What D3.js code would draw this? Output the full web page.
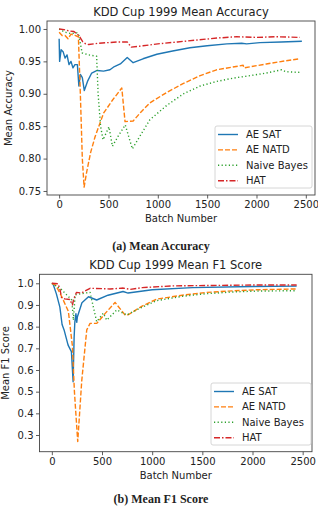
<!DOCTYPE html>
<html>
<head>
<meta charset="utf-8">
<script src="https://cdn.jsdelivr.net/npm/d3@7"></script>
<style>
  body { margin: 0; background: #fff; }
  svg text { font-family: "DejaVu Sans", sans-serif; fill: #222; }
  .caption { font-family: "Liberation Serif", serif; font-weight: bold; }
</style>
</head>
<body>
<div id="chart"></div>
<script>
// series as [batch, value] pairs
var seriesNames = ["AE SAT", "AE NATD", "Naive Bayes", "HAT"];

var accSat = [[0,0.985],[5,0.95],[20,0.968],[40,0.965],[60,0.955],[80,0.96],[100,0.945],[120,0.95],[140,0.94],[160,0.945],[185,0.945],[200,0.912],[215,0.93],[235,0.925],[255,0.905],[290,0.92],[330,0.932],[385,0.936],[450,0.935],[515,0.937],[560,0.942],[620,0.946],[690,0.956],[750,0.948],[850,0.954],[990,0.961],[1150,0.966],[1325,0.971],[1500,0.974],[1700,0.977],[1850,0.978],[1900,0.977],[2035,0.979],[2250,0.98],[2460,0.981]];
var accNatd = [[0,0.995],[30,0.99],[60,0.99],[90,0.985],[120,0.992],[160,0.99],[195,0.988],[215,0.9],[235,0.8],[253,0.756],[280,0.78],[320,0.81],[365,0.834],[450,0.87],[540,0.89],[635,0.909],[668,0.857],[750,0.858],[830,0.872],[920,0.886],[1090,0.902],[1260,0.916],[1430,0.928],[1595,0.937],[1865,0.944],[1875,0.94],[2100,0.946],[2300,0.951],[2440,0.954]];
var accNb = [[0,1.0],[60,0.995],[120,0.993],[180,0.994],[200,0.99],[233,0.963],[300,0.96],[380,0.958],[395,0.9],[420,0.85],[445,0.829],[505,0.849],[540,0.819],[600,0.835],[670,0.852],[742,0.815],[820,0.835],[920,0.86],[1090,0.882],[1260,0.9],[1430,0.912],[1595,0.919],[1760,0.924],[1935,0.928],[2100,0.932],[2255,0.937],[2300,0.934],[2440,0.933]];
var accHat = [[0,1.0],[50,0.999],[100,0.997],[150,0.996],[200,0.99],[240,0.98],[270,0.977],[300,0.976],[400,0.978],[500,0.979],[600,0.98],[690,0.98],[730,0.972],[850,0.974],[1000,0.977],[1200,0.98],[1400,0.983],[1600,0.986],[1800,0.988],[2000,0.987],[2200,0.988],[2440,0.987]];

var f1Sat = [[10,1.0],[46,0.95],[80,0.89],[102,0.81],[122,0.785],[162,0.715],[195,0.685],[212,0.546],[222,0.75],[229,0.82],[240,0.86],[248,0.82],[255,0.846],[300,0.91],[365,0.938],[447,0.923],[560,0.945],[710,0.962],[760,0.955],[1000,0.97],[1400,0.98],[2000,0.985],[2440,0.987]];
var f1Natd = [[0,1.0],[40,0.99],[99,0.938],[165,0.87],[205,0.71],[225,0.5],[258,0.27],[298,0.55],[348,0.785],[381,0.815],[448,0.815],[530,0.86],[630,0.912],[729,0.854],[762,0.855],[900,0.895],[1045,0.927],[1300,0.945],[1542,0.958],[1800,0.965],[2040,0.97],[2438,0.974]];
var f1Nb = [[0,1.0],[99,0.97],[149,0.946],[199,0.923],[215,0.83],[232,0.946],[315,0.954],[381,0.958],[447,0.823],[513,0.862],[547,0.83],[647,0.877],[746,0.854],[900,0.89],[1045,0.92],[1300,0.94],[1542,0.952],[1800,0.96],[2040,0.964],[2440,0.966]];
var f1Hat = [[0,1.0],[60,0.998],[80,0.975],[96,0.935],[129,0.928],[179,0.925],[205,0.9],[220,0.93],[245,0.958],[295,0.955],[381,0.977],[580,0.974],[712,0.978],[779,0.972],[900,0.98],[1200,0.988],[1600,0.99],[2000,0.992],[2440,0.992]];

var xTicks = [0, 500, 1000, 1500, 2000, 2500];
var accTicks = [0.75, 0.80, 0.85, 0.90, 0.95, 1.00];
var f1Ticks = [0.3, 0.4, 0.5, 0.6, 0.7, 0.8, 0.9, 1.0];

var colors = ["#1f77b4", "#ff7f0e", "#2ca02c", "#d62728"];
var dashes = [null, "5,2", "1.2,2.4", "6,2,1.5,2"];

var W = 318, H = 507;
var svg = d3.select("#chart").append("svg").attr("width", W).attr("height", H);

function drawPanel(opt) {
  var x = d3.scaleLinear().domain([-123, 2593]).range([opt.left, opt.right]);
  var y = d3.scaleLinear().domain(opt.yDomain).range([opt.bottom, opt.top]);
  var g = svg.append("g");

  var clipId = "clip" + opt.id;
  g.append("clipPath").attr("id", clipId).append("rect")
    .attr("x", opt.left).attr("y", opt.top)
    .attr("width", opt.right - opt.left).attr("height", opt.bottom - opt.top);

  var line = d3.line().x(function (d) { return x(d[0]); }).y(function (d) { return y(d[1]); });

  var lines = g.append("g").attr("clip-path", "url(#" + clipId + ")");
  opt.series.forEach(function (s, i) {
    lines.append("path").datum(s).attr("d", line)
      .attr("fill", "none").attr("stroke", colors[i]).attr("stroke-width", 1.4)
      .attr("stroke-dasharray", dashes[i]).attr("stroke-linejoin", "round");
  });

  var xAxis = g.append("g").attr("transform", "translate(0," + opt.bottom + ")")
    .call(d3.axisBottom(x).tickValues(xTicks).tickSize(3.5).tickPadding(2.5).tickFormat(d3.format("d")));
  var yAxis = g.append("g").attr("transform", "translate(" + opt.left + ",0)")
    .call(d3.axisLeft(y).tickValues(opt.yTicks).tickSize(3.5).tickPadding(2.5).tickFormat(d3.format(opt.fmt)));
  [xAxis, yAxis].forEach(function (a) {
    a.select(".domain").remove();
    a.selectAll("line").attr("stroke", "#333").attr("stroke-width", 0.8);
    a.selectAll("text").attr("font-size", 10).attr("fill", "#333");
  });

  g.append("rect").attr("x", opt.left).attr("y", opt.top)
    .attr("width", opt.right - opt.left).attr("height", opt.bottom - opt.top)
    .attr("fill", "none").attr("stroke", "#444").attr("stroke-width", 0.9);

  g.append("text").attr("x", (opt.left + opt.right) / 2).attr("y", opt.top - 5)
    .attr("text-anchor", "middle").attr("font-size", 11.5).text(opt.title);
  g.append("text").attr("x", (opt.left + opt.right) / 2).attr("y", opt.bottom + 27)
    .attr("text-anchor", "middle").attr("font-size", 10).attr("fill", "#333").text("Batch Number");
  g.append("text").attr("transform", "translate(" + opt.yLabelX + "," + (opt.top + opt.bottom) / 2 + ") rotate(-90)")
    .attr("text-anchor", "middle").attr("font-size", 10).attr("fill", "#333").text(opt.yLabel);

  // legend
  var lg = g.append("g").attr("transform", "translate(" + opt.legend[0] + "," + opt.legend[1] + ")");
  lg.append("rect").attr("width", opt.legend[2]).attr("height", 62).attr("rx", 2)
    .attr("fill", "#fff").attr("fill-opacity", 0.85).attr("stroke", "#ccc").attr("stroke-width", 0.8);
  seriesNames.forEach(function (name, i) {
    var yy = 8.5 + i * 15.4;
    lg.append("line").attr("x1", 3).attr("x2", 23).attr("y1", yy).attr("y2", yy)
      .attr("stroke", colors[i]).attr("stroke-width", 1.4).attr("stroke-dasharray", dashes[i]);
    lg.append("text").attr("x", 31).attr("y", yy + 3.5).attr("font-size", 10).attr("fill", "#333").text(name);
  });

  svg.append("text").attr("class", "caption").attr("x", 161).attr("y", opt.captionY)
    .attr("text-anchor", "middle").attr("font-size", 12).text(opt.caption);
}

drawPanel({
  id: "a", left: 47, right: 315, top: 21, bottom: 195,
  yDomain: [0.7438, 1.0123], yTicks: accTicks, fmt: ".2f",
  series: [accSat, accNatd, accNb, accHat],
  title: "KDD Cup 1999 Mean Accuracy", yLabel: "Mean Accuracy", yLabelX: 12,
  legend: [215, 126, 97], caption: "(a) Mean Accuracy", captionY: 250
});

drawPanel({
  id: "b", left: 39.5, right: 312, top: 274.3, bottom: 451.7,
  yDomain: [0.223, 1.0415], yTicks: f1Ticks, fmt: ".1f",
  series: [f1Sat, f1Natd, f1Nb, f1Hat],
  title: "KDD Cup 1999 Mean F1 Score", yLabel: "Mean F1 Score", yLabelX: 9,
  legend: [211, 383, 100], caption: "(b) Mean F1 Score", captionY: 503
});
</script>
</body>
</html>
